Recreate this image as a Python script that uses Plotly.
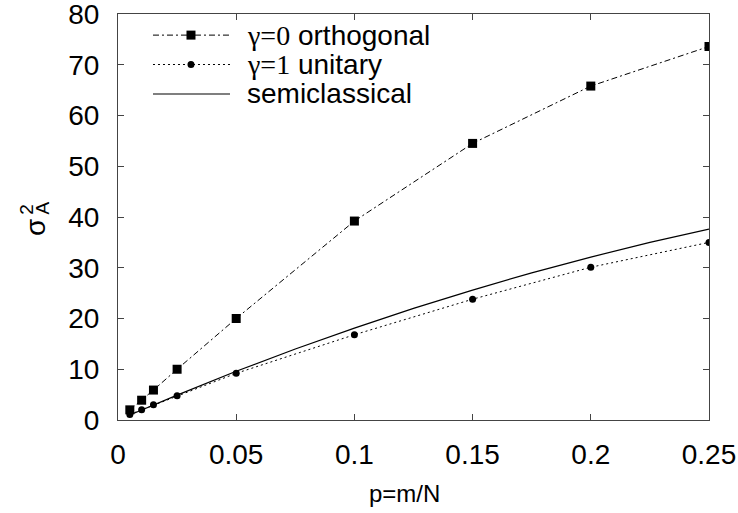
import plotly.graph_objects as go

p_points = [0.005, 0.01, 0.015, 0.025, 0.05, 0.1, 0.15, 0.2, 0.25]
orthogonal = [2.0, 3.9, 5.9, 10.0, 20.0, 39.2, 54.5, 65.8, 73.6]
unitary = [1.1, 2.0, 3.0, 4.8, 9.2, 16.8, 23.8, 30.1, 35.0]

p_semi = [0.005, 0.01, 0.025, 0.05, 0.075, 0.1, 0.125, 0.15, 0.175, 0.2, 0.225, 0.25]
semiclassical = [1.0, 2.0, 4.9, 9.6, 14.0, 18.1, 22.0, 25.6, 29.0, 32.1, 35.0, 37.6]

x_ticks = [0, 0.05, 0.1, 0.15, 0.2, 0.25]
x_ticktext = ["0", "0.05", "0.1", "0.15", "0.2", "0.25"]
y_ticks = [0, 10, 20, 30, 40, 50, 60, 70, 80]

SERIF = "Liberation Serif"
SANS = "Liberation Sans, Arial, sans-serif"

legend_names = [
    f"<span style='font-family:{SERIF}'>γ=0</span> orthogonal",
    f"<span style='font-family:{SERIF}'>γ=1</span> unitary",
    "semiclassical",
]
dash_ortho = "6px,3px,2px,3px"
dash_unit = "2px,3px"

fig = go.Figure()
fig.add_trace(go.Scatter(
    x=p_points, y=orthogonal, mode="lines+markers", name=legend_names[0],
    line=dict(color="black", width=1, dash=dash_ortho),
    marker=dict(symbol="square", size=9, color="black"),
))
fig.add_trace(go.Scatter(
    x=p_points, y=unitary, mode="lines+markers", name=legend_names[1],
    line=dict(color="black", width=1, dash=dash_unit),
    marker=dict(symbol="circle", size=7, color="black"),
))
fig.add_trace(go.Scatter(
    x=p_semi, y=semiclassical, mode="lines", name=legend_names[2],
    line=dict(color="black", width=1.2),
))

axis_common = dict(
    showline=True, linecolor="#444", linewidth=1, mirror="ticks",
    ticks="inside", ticklen=6, tickcolor="#444", tickwidth=1,
    showgrid=False, zeroline=False, automargin=False,
    ticklabeloverflow="allow",
    tickfont=dict(family=SANS, size=28, color="black"),
)

fig.update_layout(
    width=738, height=513,
    margin=dict(l=118, r=29, t=14, b=93),
    plot_bgcolor="white", paper_bgcolor="white",
    font=dict(family=SANS, color="black"),
    xaxis=dict(range=[0, 0.25], tickvals=x_ticks, ticktext=x_ticktext,
               ticklabelstandoff=9, **axis_common),
    yaxis=dict(range=[0, 80], tickvals=y_ticks, ticklabelstandoff=12,
               **axis_common),
    showlegend=False,
)

# Manual legend (paper coordinates inside the plot area)
rows_y = [0.948, 0.8756, 0.803]
line_x0, line_x1, mark_x, text_x = 0.0592, 0.1895, 0.1235, 0.2149
dashes = [dash_ortho, dash_unit, "solid"]
for i, (yy, dsh, name) in enumerate(zip(rows_y, dashes, legend_names)):
    fig.add_shape(type="line", xref="paper", yref="paper",
                  x0=line_x0, x1=line_x1, y0=yy, y1=yy,
                  line=dict(color="black", width=1 if i < 2 else 1.2, dash=dsh))
    fig.add_annotation(xref="paper", yref="paper", x=text_x, y=yy,
                       xanchor="left", yanchor="middle", text=name,
                       showarrow=False,
                       font=dict(family=SANS, size=28, color="black"))
fig.add_shape(type="rect", xref="paper", yref="paper",
              xsizemode="pixel", ysizemode="pixel",
              xanchor=mark_x, yanchor=rows_y[0],
              x0=-4.5, x1=4.5, y0=-4.5, y1=4.5,
              fillcolor="black", line=dict(width=0))
fig.add_shape(type="circle", xref="paper", yref="paper",
              xsizemode="pixel", ysizemode="pixel",
              xanchor=mark_x, yanchor=rows_y[1],
              x0=-3.5, x1=3.5, y0=-3.5, y1=3.5,
              fillcolor="black", line=dict(width=0))

# Axis titles
fig.add_annotation(xref="paper", yref="paper", x=0.484, y=-0.182,
                   xanchor="center", yanchor="middle",
                   text="p=m/N", showarrow=False,
                   font=dict(family=SANS, size=24, color="black"))
fig.add_annotation(xref="paper", yref="paper", x=-0.1387, y=0.473,
                   xanchor="center", yanchor="middle",
                   text="σ", textangle=-90, showarrow=False,
                   font=dict(family=SANS, size=28, color="black"))
fig.add_annotation(xref="paper", yref="paper", x=-0.154, y=0.52,
                   xanchor="center", yanchor="middle",
                   text="2", textangle=-90, showarrow=False,
                   font=dict(family=SANS, size=19, color="black"))
fig.add_annotation(xref="paper", yref="paper", x=-0.128, y=0.522,
                   xanchor="center", yanchor="middle",
                   text="A", textangle=-90, showarrow=False,
                   font=dict(family=SANS, size=19, color="black"))

fig.write_html("out.html")
